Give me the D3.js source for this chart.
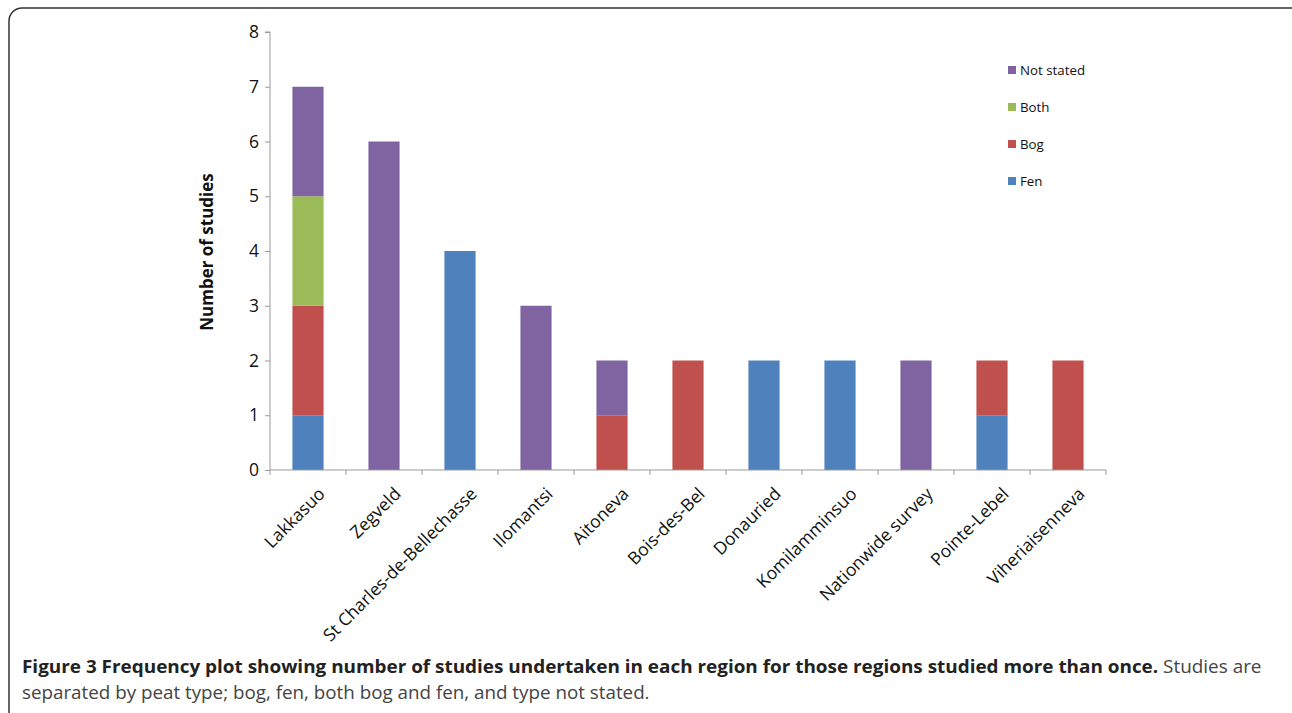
<!DOCTYPE html>
<html><head><meta charset="utf-8">
<script src="https://cdn.jsdelivr.net/npm/d3@7"></script>
<style>body{margin:0;background:#fff;} svg{display:block;}</style>
</head><body>
<svg id="c" width="1292" height="713"></svg>
<script>
const categories = ["Lakkasuo","Zegveld","St Charles-de-Bellechasse","Ilomantsi","Aitoneva","Bois-des-Bel","Donauried","Komilamminsuo","Nationwide survey","Pointe-Lebel","Viheriaisenneva"];
const fen       = [1,0,4,0,0,0,2,2,0,1,0];
const bog       = [2,0,0,0,1,2,0,0,0,1,2];
const both      = [2,0,0,0,0,0,0,0,0,0,0];
const notStated = [2,6,0,3,1,0,0,0,2,0,0];
const seriesNames = ["Fen","Bog","Both","Not stated"];
const yTicks = [0,1,2,3,4,5,6,7,8];
const colors = {"Fen":"#4F81BD","Bog":"#C0504D","Both":"#9BBB59","Not stated":"#8064A2"};

const svg = d3.select("#c");
const font = "'Open Sans', 'Noto Sans', sans-serif";

// border
svg.append("rect").attr("x",9).attr("y",8).attr("width",1296).attr("height",716)
  .attr("rx",13).attr("fill","none").attr("stroke","#333").attr("stroke-width",1.5);

const x0 = 270, x1 = 1106, yTop = 32, yBot = 470;
const x = d3.scaleBand().domain(categories).range([x0,x1]).paddingInner(0.59).paddingOuter(0.295);
const y = d3.scaleLinear().domain([0,8]).range([yBot,yTop]);

const table = categories.map((c,i)=>({cat:c,"Fen":fen[i],"Bog":bog[i],"Both":both[i],"Not stated":notStated[i]}));
const stack = d3.stack().keys(seriesNames)(table);

const g = svg.append("g");
stack.forEach(s=>{
  g.selectAll(null).data(s.filter(d=>d[1]>d[0])).enter().append("rect")
    .attr("x",d=>x(d.data.cat)).attr("width",x.bandwidth())
    .attr("y",d=>y(d[1])).attr("height",d=>y(d[0])-y(d[1]))
    .attr("fill",colors[s.key]);
});

// y axis
const ya = svg.append("g").attr("transform",`translate(${x0},0)`)
  .call(d3.axisLeft(y).tickValues(yTicks).tickSize(5).tickPadding(6).tickFormat(d3.format("d")));
ya.select(".domain").attr("stroke","#999").attr("d",`M-5,${yTop}H0V${yBot}`);
ya.selectAll(".tick line").attr("stroke","#999");
ya.selectAll("text").attr("font-family",font).attr("font-size",17.5).attr("fill","#111");

// x axis
const xa = svg.append("g").attr("transform",`translate(0,${yBot})`);
xa.append("line").attr("x1",x0).attr("x2",x1).attr("y1",0).attr("y2",0).attr("stroke","#999");
d3.range(categories.length+1).forEach(i=>{
  const xx = x0 + i*(x1-x0)/categories.length;
  xa.append("line").attr("x1",xx).attr("x2",xx).attr("y1",0).attr("y2",5).attr("stroke","#999");
});
xa.selectAll(null).data(categories).enter().append("text")
  .attr("transform",d=>`translate(${x(d)+x.bandwidth()/2+18},${25}) rotate(-45)`)
  .attr("text-anchor","end").attr("font-family",font).attr("font-size",17.5).attr("fill","#111")
  .text(d=>d);

// y label
svg.append("text").attr("transform","translate(213,252) rotate(-90)").attr("text-anchor","middle")
  .attr("font-family",font).attr("font-weight","bold").attr("font-size",17).attr("fill","#111")
  .text("Number of studies");

// legend
const legendOrder = ["Not stated","Both","Bog","Fen"];
const lg = svg.append("g");
legendOrder.forEach((k,i)=>{
  const yy = 70 + i*37;
  lg.append("rect").attr("x",1008).attr("y",yy-4).attr("width",8).attr("height",8).attr("fill",colors[k]);
  lg.append("text").attr("x",1020).attr("y",yy+4.5).attr("font-family",font).attr("font-size",13.3).attr("fill","#111").text(k);
});

// caption
const cap1 = svg.append("text").attr("x",22).attr("y",673).attr("font-family",font).attr("font-size",18).attr("fill","#222");
cap1.append("tspan").attr("font-weight","bold").text("Figure 3 Frequency plot showing number of studies undertaken in each region for those regions studied more than once.");
cap1.append("tspan").attr("fill","#444").text(" Studies are");
const cap2 = svg.append("text").attr("x",22).attr("y",699).attr("font-family",font).attr("font-size",18).attr("fill","#444")
  .text("separated by peat type; bog, fen, both bog and fen, and type not stated.");
function fit(t, w){
  const L = t.node().getComputedTextLength();
  const s = w / L;
  t.attr("transform",`translate(22,0) scale(${s},1) translate(-22,0)`);
}
fit(cap1, 1240);
fit(cap2, 628);
</script>
</body></html>
